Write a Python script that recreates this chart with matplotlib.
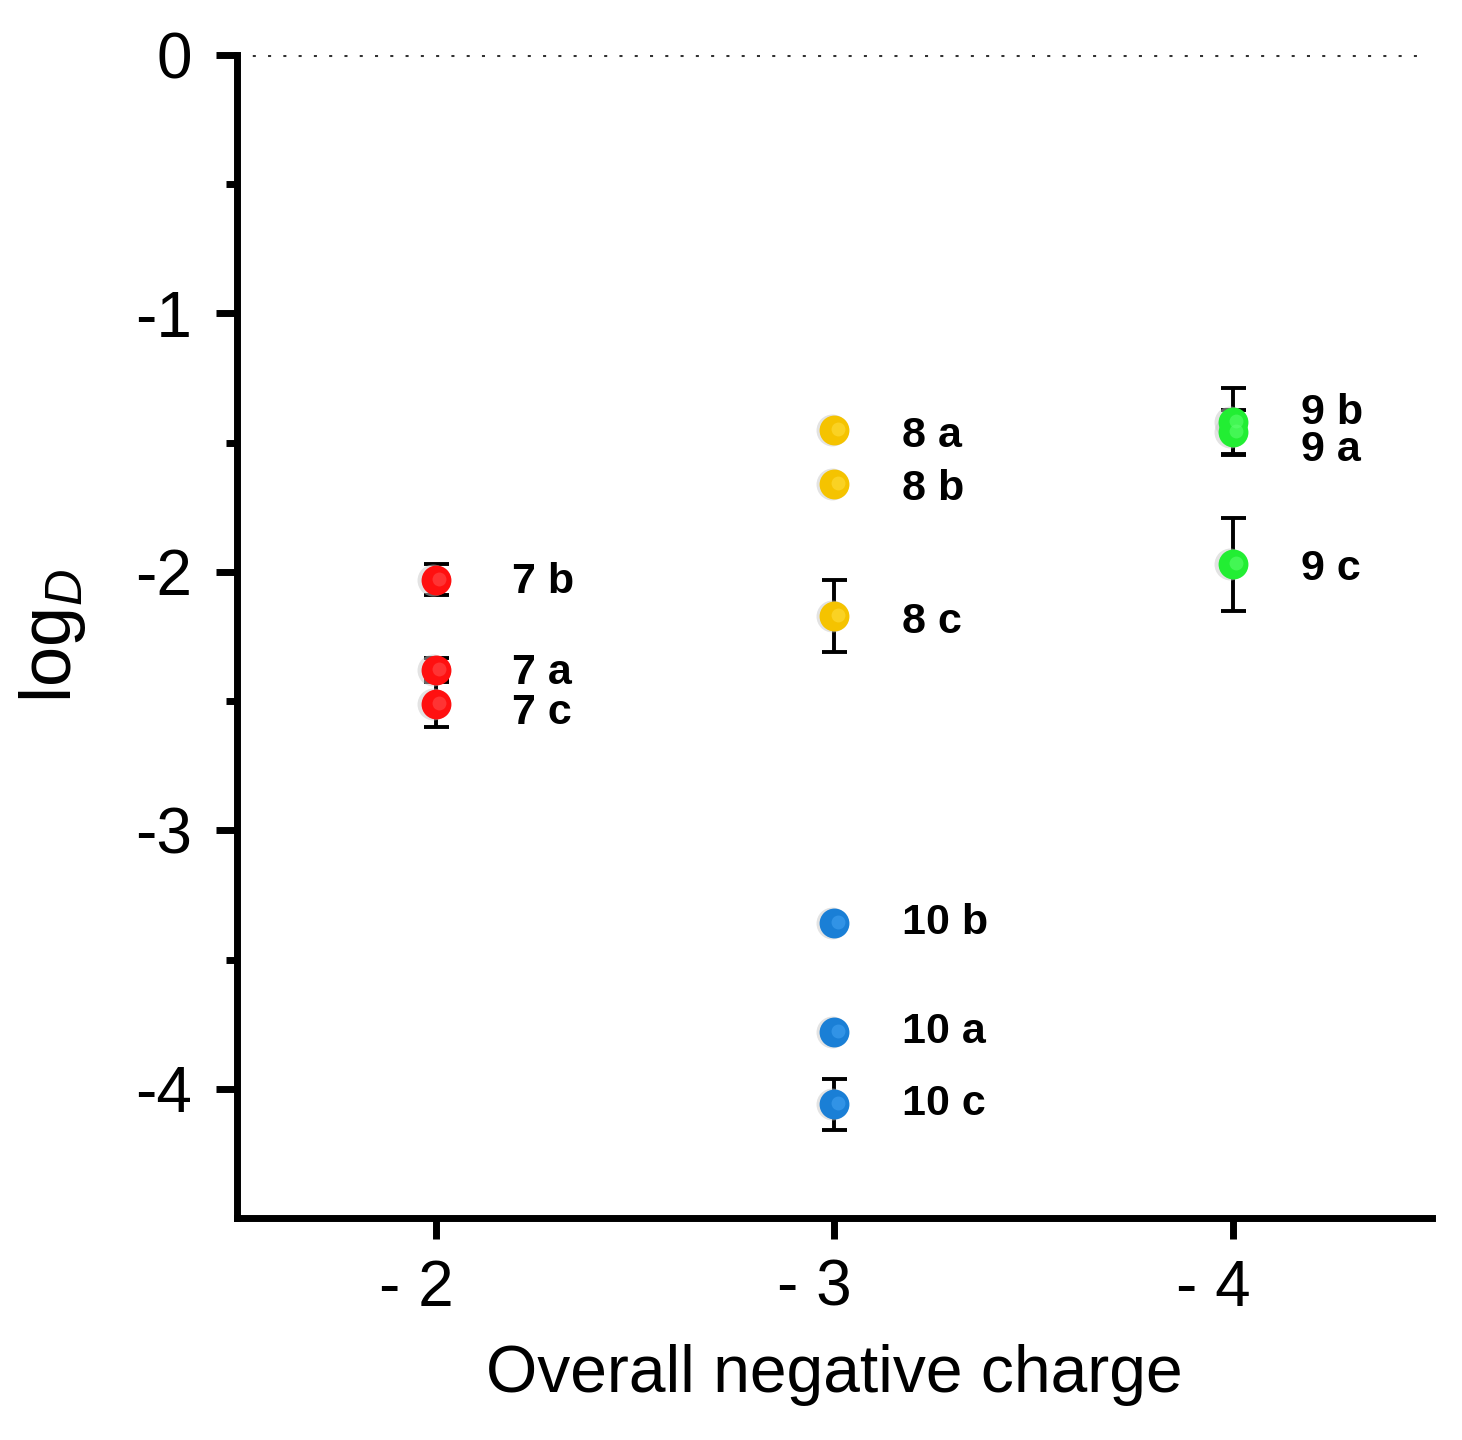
import matplotlib
matplotlib.use('Agg')
import matplotlib.pyplot as plt
from matplotlib.transforms import ScaledTranslation

plt.rcParams['font.family'] = ['Liberation Sans', 'DejaVu Sans']
plt.rcParams['mathtext.fontset'] = 'custom'
plt.rcParams['mathtext.rm'] = 'Liberation Sans'
plt.rcParams['mathtext.it'] = 'Liberation Sans:italic'

# categories on the x axis (overall charge)
charge_labels = ['- 2', '- 3', '- 4']
charge_pos = [1, 2, 3]

# compounds: name, group position, logD, error
names = ['7 a', '7 b', '7 c',
         '8 a', '8 b', '8 c',
         '9 a', '9 b', '9 c',
         '10 a', '10 b', '10 c']
group = [1, 1, 1, 2, 2, 2, 3, 3, 3, 2, 2, 2]
logd = [-2.38, -2.03, -2.51,
        -1.45, -1.66, -2.17,
        -1.46, -1.42, -1.97,
        -3.78, -3.36, -4.06]
err = [0.045, 0.06, 0.09,
       0.0, 0.0, 0.14,
       0.085, 0.13, 0.18,
       0.0, 0.0, 0.10]
colors = ['#ff1010'] * 3 + ['#f5c300'] * 3 + ['#22ee33'] * 3 + ['#1a7fd6'] * 3
highlights = ['#ff5050'] * 3 + ['#ffdf40'] * 3 + ['#60ff70'] * 3 + ['#45a5f5'] * 3

# label nudges (vertical) so the names don't collide
label_dy = [-0.01, -0.01, -0.035,
            -0.023, -0.02, -0.024,
            -0.07, 0.035, -0.02,
            0.0, 0.0, 0.0]
label_dx = [0.19, 0.19, 0.19, 0.17, 0.17, 0.17, 0.17, 0.17, 0.17, 0.17, 0.17, 0.17]

fig = plt.figure(figsize=(14.62, 14.4), dpi=100)
ax = fig.add_axes([0.162, 0.154, 0.8175, 0.808])

ax.axhline(0, color='#333333', lw=2.2, ls=(0, (1, 4)), xmax=0.99, zorder=1)

for i in range(len(names)):
    if err[i] > 0:
        ax.errorbar(group[i], logd[i], yerr=err[i], fmt='none', ecolor='black',
                    elinewidth=2.8, capsize=9, capthick=2.8, zorder=2)
    # soft shadow, ball, highlight
    ax.plot(group[i] - 0.007, logd[i], 'o', ms=23, color='#c8c8c8', alpha=0.5,
            mec='none', zorder=3)
    ax.plot(group[i], logd[i], 'o', ms=21.5, color=colors[i], mec='none', zorder=4)
    ax.plot(group[i] + 0.008, logd[i] + 0.004, 'o', ms=10, color=highlights[i],
            mec='none', alpha=0.55, zorder=5)
    ax.text(group[i] + label_dx[i], logd[i] + label_dy[i], names[i],
            fontsize=31, fontweight='bold', va='center', ha='left', zorder=6)

ax.set_xlim(0.5, 3.5)
ax.set_ylim(-4.5, 0)
ax.set_xticks(charge_pos)
ax.set_xticklabels(charge_labels)
ax.set_yticks([0, -1, -2, -3, -4])
ax.set_yticklabels(['0', '-1', '-2', '-3', '-4'])
ax.set_yticks([-0.5, -1.5, -2.5, -3.5], minor=True)

for s in ['top', 'right']:
    ax.spines[s].set_visible(False)
ax.spines['left'].set_bounds(-4.5, 0)
for s in ['left', 'bottom']:
    ax.spines[s].set_linewidth(5)

ax.tick_params(axis='both', which='major', length=15, width=5, labelsize=46, pad=17)
ax.tick_params(axis='x', which='major', pad=14)
ax.tick_params(axis='y', which='minor', length=8, width=5)

# digits sit under the ticks, the minus sign hangs to the left
shift = ScaledTranslation(-0.2, 0, fig.dpi_scale_trans)
for lbl in ax.get_xticklabels():
    lbl.set_transform(lbl.get_transform() + shift)

ax.set_xlabel('Overall negative charge', fontsize=47.5, labelpad=18)
ax.set_ylabel(r'log$_{\mathit{D}}$', fontsize=52, labelpad=34)

fig.savefig('out.png', dpi=100)
